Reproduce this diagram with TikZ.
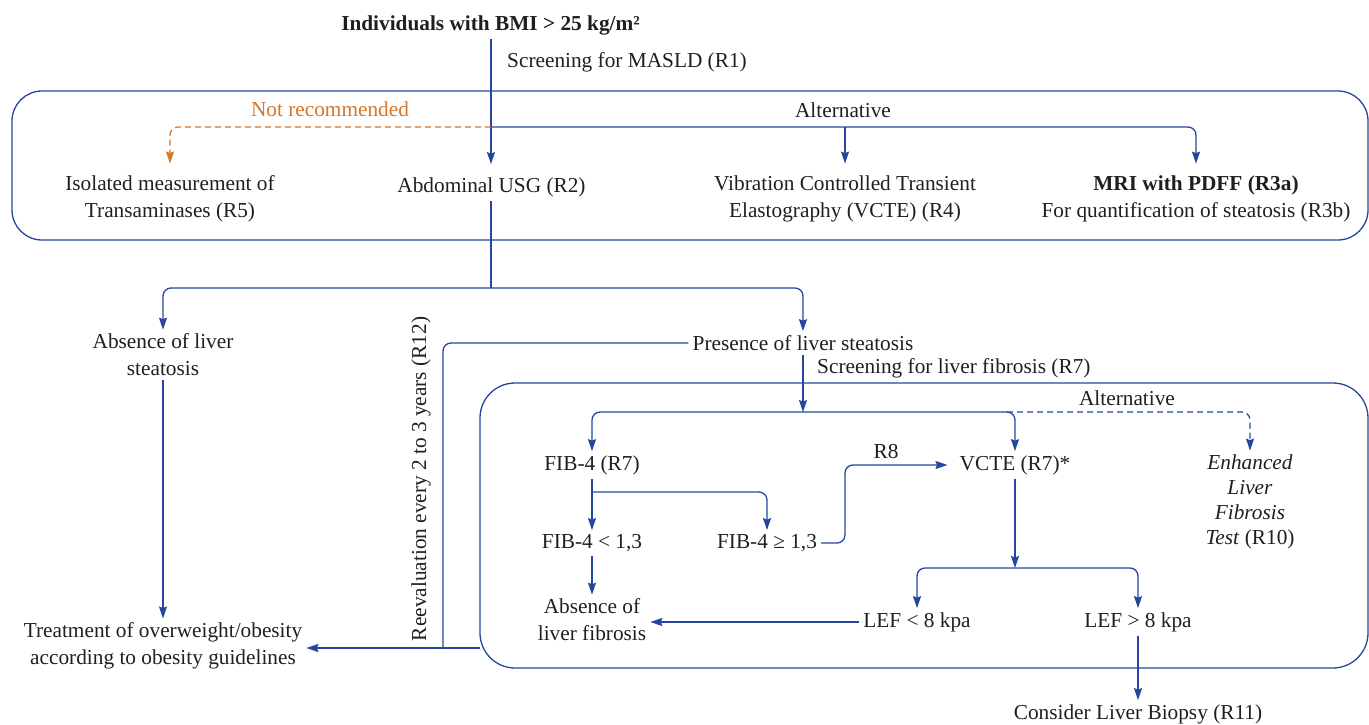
\documentclass[tikz,border=0pt]{standalone}
\usepackage{fontspec}
\setmainfont{Liberation Serif}
\usetikzlibrary{arrows.meta}
\definecolor{fblue}{RGB}{36,70,158}
\definecolor{forange}{RGB}{214,118,38}
\begin{document}
\begin{tikzpicture}[x=1pt,y=-1pt,
  font=\fontsize{21.3}{27}\selectfont,
  every node/.style={inner sep=4pt, align=center, text=black!88},
  line/.style={fblue, line width=1.3pt, rounded corners=8pt},
  tip/.style={-{Stealth[length=12pt,width=8pt,inset=1.5pt]}},
  arr/.style={line, tip},
  darr/.style={arr, dash pattern=on 6pt off 4pt},
  oarr/.style={forange, line width=1.3pt, rounded corners=8pt, dash pattern=on 6pt off 4pt, tip},
  group/.style={fblue, line width=1.3pt}]
\useasboundingbox (0,0) rectangle (1369,725);
% group boxes
\draw[group, rounded corners=30pt] (12,91) rectangle (1368,240);
\draw[group, rounded corners=35pt] (480,383) rectangle (1368,668);
% nodes
\node[font=\fontsize{21.3}{27}\selectfont\bfseries] (title) at (490.5,25) {Individuals with BMI > 25 kg/m²};
\node[anchor=west] (scr) at (503,62) {Screening for MASLD (R1)};
\node[text=forange] (notrec) at (330,109) {Not recommended};
\node (alt1) at (843,110) {Alternative};
\node (iso) at (170,199) {Isolated measurement of\\Transaminases (R5)};
\node (usg) at (491.5,187) {Abdominal USG (R2)};
\node (vcte1) at (845,199) {Vibration Controlled Transient\\Elastography (VCTE) (R4)};
\node (mri) at (1196,199) {\textbf{MRI with PDFF (R3a)}\\For quantification of steatosis (R3b)};
\node (abs) at (163,355) {Absence of liver\\steatosis};
\node (pres) at (803,343) {Presence of liver steatosis};
\node[anchor=west] (scrf) at (813,368) {Screening for liver fibrosis (R7)};
\node (treat) at (163,646) {Treatment of overweight/obesity\\according to obesity guidelines};
\node[rotate=90] (reev) at (421,479) {Reevaluation every 2 to 3 years (R12)};
\node (alt2) at (1127,398) {Alternative};
\node (fib) at (592,465) {FIB-4 (R7)};
\node (fiblo) at (592,543) {FIB-4 < 1,3};
\node (fibhi) at (767,543) {FIB-4 ≥ 1,3};
\node (r8) at (886,452) {R8};
\node (vcte2) at (1015,465) {VCTE (R7)*};
\node[font=\fontsize{21.3}{25}\selectfont] (elf) at (1250,502) {\textit{Enhanced}\\\textit{Liver}\\\textit{Fibrosis}\\\textit{Test} (R10)};
\node (absf) at (592,620) {Absence of\\liver fibrosis};
\node (leflo) at (917,622) {LEF < 8 kpa};
\node (lefhi) at (1138,622) {LEF > 8 kpa};
\node (biop) at (1138,714) {Consider Liver Biopsy (R11)};
% junctions
\coordinate (j1) at (491,127);
\coordinate (j2) at (491,288);
\coordinate (j3) at (443,648);
\coordinate (j4) at (480,648);
\coordinate (j5) at (803,412);
\coordinate (j6) at (592,492);
\coordinate (j7) at (845,465);
\coordinate (j8) at (1015,568);
% connectors
\draw[arr, shorten >=9pt] (title.south -| j1) -- (usg.north -| j1);
\draw[arr, shorten >=8pt] (j1) -- (j1 -| mri.north) -- (mri.north);
\draw[arr, shorten >=8pt] (j1 -| vcte1.north) -- (vcte1.north);
\draw[oarr, shorten >=8pt] (j1) -- (j1 -| iso.north) -- (iso.north);
\draw[line] (usg.south -| j2) -- (j2);
\draw[arr] (j2) -- (j2 -| abs.north) -- (abs.north);
\draw[arr] (j2) -- (j2 -| pres.north) -- (pres.north);
\draw[line] (pres.west) -| (j3);
\draw[arr] (j4) -- (treat.east |- j4);
\draw[arr] (abs.south) -- (treat.north);
\draw[arr] (pres.south) -- (j5);
\draw[arr] (j5) -- (j5 -| fib.north) -- (fib.north);
\draw[arr] (j5) -- (j5 -| vcte2.north) -- (vcte2.north);
\draw[darr] ([xshift=-8pt]j5 -| vcte2.north) -- (j5 -| elf.north) -- (elf.north);
\draw[arr] (fib.south) -- (fiblo.north);
\draw[arr] (j6) -- (j6 -| fibhi.north) -- (fibhi.north);
\draw[arr, shorten >=8pt] (fibhi.east) -| (j7) -- (vcte2.west);
\draw[arr] (fiblo.south) -- (absf.north);
\draw[arr] (vcte2.south) -- (j8);
\draw[arr] (j8) -- (j8 -| leflo.north) -- (leflo.north);
\draw[arr] (j8) -- (j8 -| lefhi.north) -- (lefhi.north);
\draw[arr] (leflo.west) -- (absf.east |- leflo.west);
\draw[arr] (lefhi.south) -- (biop.north);
\end{tikzpicture}
\end{document}
